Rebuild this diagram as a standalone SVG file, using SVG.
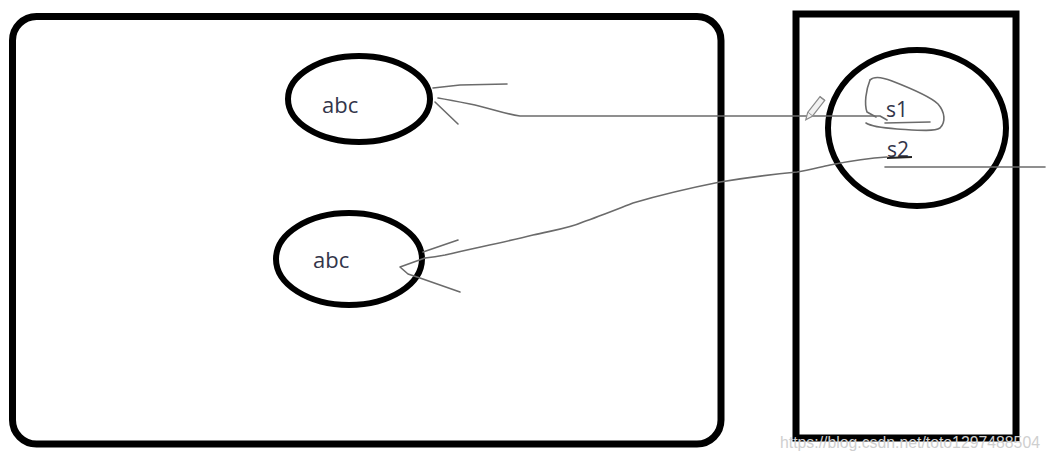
<svg xmlns="http://www.w3.org/2000/svg" width="1049" height="462" viewBox="0 0 1049 462">
<style>
.box{fill:none;stroke:#000;stroke-width:7}
.node{fill:none;stroke:#000;stroke-width:6}
.lbl{font-family:"Open Sans","Noto Sans",sans-serif;font-size:22px;fill:#33354a}
.ink{fill:none;stroke:#6b6b6b;stroke-width:1.6;stroke-linecap:round;stroke-linejoin:round}
.wm{font-family:"Liberation Sans",Arial,sans-serif;font-size:15.8px;fill:#cfcfcf}
</style>
<rect width="1049" height="462" fill="#fff"/>
<g id="container-left"><rect class="box" x="12.5" y="16.5" width="708.5" height="427.5" rx="24"/></g>
<g id="container-right"><rect class="box" x="796" y="14" width="220" height="424"/></g>
<g id="node-abc-1"><ellipse class="node" cx="359" cy="99" rx="71" ry="43"/><text class="lbl" x="322" y="113">abc</text></g>
<g id="node-abc-2"><ellipse class="node" cx="349" cy="259" rx="73" ry="46"/><text class="lbl" x="313" y="268">abc</text></g>
<g id="node-s"><ellipse class="node" cx="917" cy="128" rx="89" ry="78"/>
<text class="lbl" x="886" y="117" style="font-size:21px">s1</text>
<text class="lbl" x="887" y="157" style="font-size:21px">s2</text>
<path class="ink" d="M870 80 C866 90 864 104 867 112 L876 117"/>
<path class="ink" d="M870 80 C874 76 882 77 892 81 C910 88 930 96 938 104 C945 112 946 122 940 128 C934 132 915 130 897 129 C884 128 872 127 866 123"/>
<path class="ink" d="M885 123 L930 122"/>
<path d="M887 158 L912 157" stroke="#222" stroke-width="1.8" fill="none"/>
</g>
<g id="connectors">
<path class="ink" d="M433 88 L460 85 L507 84"/>
<path class="ink" d="M438 98 C450 100 460 102 470 104 C490 108 505 114 520 116 L880 116 L887 120"/>
<path class="ink" d="M435 102 L458 124"/>
<path class="ink" d="M423 252 L458 240"/>
<path class="ink" d="M425 258 C435 257 440 256 445 255 C475 248 505 242 533 235 C555 230 570 228 583 222 C600 216 620 208 633 203 C660 195 690 188 720 182 C750 177 775 174 797 172 C810 170 820 167 830 165 C850 161 870 158 887 157"/>
<path class="ink" d="M425 258 L400 267 L408 274 L420 278 L460 292"/>
<path class="ink" d="M885 167 L1045 167"/>
<g transform="translate(815,108) rotate(-52)"><rect x="-8" y="-3" width="20" height="6" fill="#f2f2f2" stroke="#8a8a8a" stroke-width="1.2"/><path d="M-8 -3 L-15 0 L-8 3" fill="#f2f2f2" stroke="#8a8a8a" stroke-width="1.2"/><path d="M12 -3 L12 3" stroke="#8a8a8a" stroke-width="1.2"/></g>
</g>
<text class="wm" x="780" y="448">https://blog.csdn.net/toto1297488504</text>
</svg>
